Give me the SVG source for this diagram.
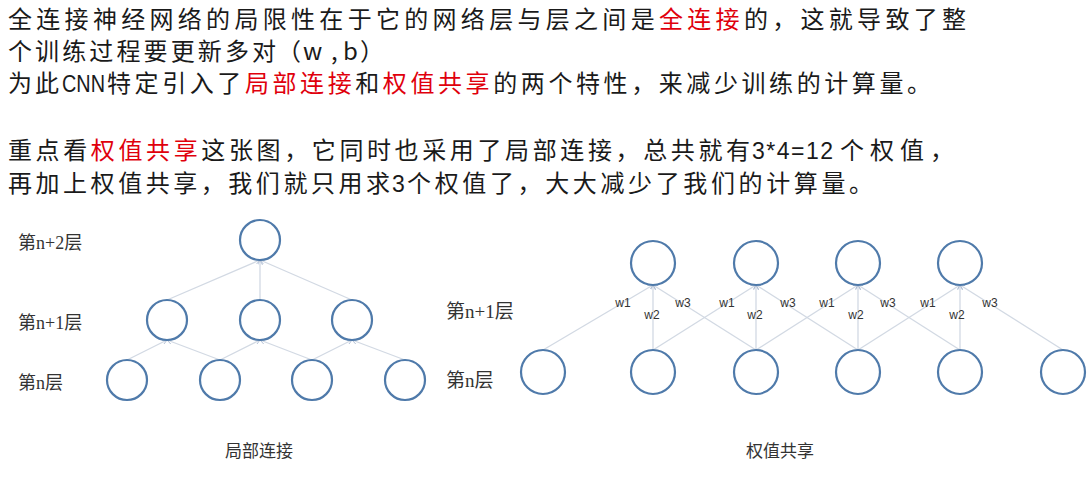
<svg xmlns="http://www.w3.org/2000/svg" width="1090" height="500" viewBox="0 0 1090 500">
<style>
.t{font-family:"Noto Sans CJK SC","Liberation Sans",sans-serif;font-size:24px;fill:#1a1a1a}
.l{font-family:"Liberation Sans","Noto Sans CJK SC",sans-serif;font-size:23px;fill:#1a1a1a}
.r{fill:#e0000c}
.lbl{font-family:"Liberation Serif","Noto Sans CJK SC",serif;font-size:18px;fill:#333}
.lbr{font-family:"Liberation Serif","Noto Sans CJK SC",serif;font-size:19px;fill:#333}
.cap{font-family:"Liberation Serif","Noto Sans CJK SC",serif;font-size:17px;fill:#333}
.w{font-family:"Liberation Sans","Noto Sans",sans-serif;font-size:12px;fill:#333}
.n{fill:#fff;stroke:#4f7aaa;stroke-width:2.2}
.e{stroke:#d2d9e3;stroke-width:1.3;fill:none;marker-end:url(#a)}
</style>
<defs>
<marker id="a" viewBox="0 0 6 6" refX="6" refY="3" markerWidth="5" markerHeight="5" orient="auto" markerUnits="userSpaceOnUse">
<path d="M0,0 L6,3 L0,6" fill="none" stroke="#aebcd2" stroke-width="1"/>
</marker>
</defs>
<rect width="1090" height="500" fill="#fff"/>
<g id="text">
<text class="t" x="8" y="28" textLength="958" lengthAdjust="spacing">全连接神经网络的局限性在于它的网络层与层之间是<tspan class="r">全连接</tspan>的，这就导致了整</text>
<text class="t" x="8" y="60" textLength="268" lengthAdjust="spacing">个训练过程要更新多对</text>
<text class="t" y="60"><tspan x="277">（</tspan><tspan x="303">w</tspan><tspan x="331">,</tspan><tspan x="343">b</tspan><tspan x="360">）</tspan></text>
<text class="t" x="8" y="92" letter-spacing="3">为此</text>
<text class="l" x="62" y="92" textLength="43" lengthAdjust="spacingAndGlyphs">CNN</text>
<text class="t" x="107" y="92" textLength="824" lengthAdjust="spacing">特定引入了<tspan class="r">局部连接</tspan>和<tspan class="r">权值共享</tspan>的两个特性，来减少训练的计算量。</text>
<text class="t" x="8" y="159" textLength="742" lengthAdjust="spacing">重点看<tspan class="r">权值共享</tspan>这张图，它同时也采用了局部连接，总共就有</text>
<text class="l" x="752" y="159" letter-spacing="1.5">3*4=12</text>
<text class="t" x="840" y="159" textLength="114" lengthAdjust="spacing">个权值，</text>
<text class="t" x="8" y="192" textLength="382" lengthAdjust="spacing">再加上权值共享，我们就只用求</text>
<text class="l" x="392" y="192">3</text>
<text class="t" x="407" y="192" textLength="466" lengthAdjust="spacing">个权值了，大大减少了我们的计算量。</text>
</g>
<g id="connectors">
<line class="e" x1="127" y1="360" x2="167" y2="340"/>
<line class="e" x1="220" y1="360" x2="167" y2="340"/>
<line class="e" x1="220" y1="360" x2="260" y2="340"/>
<line class="e" x1="312" y1="360" x2="260" y2="340"/>
<line class="e" x1="312" y1="360" x2="352" y2="340"/>
<line class="e" x1="405" y1="360" x2="352" y2="340"/>
<line class="e" x1="167" y1="300" x2="260" y2="260"/>
<line class="e" x1="260" y1="300" x2="260" y2="260"/>
<line class="e" x1="352" y1="300" x2="260" y2="260"/>
<line class="e" x1="543" y1="350" x2="653" y2="285"/>
<line class="e" x1="653" y1="350" x2="653" y2="285"/>
<line class="e" x1="756" y1="350" x2="653" y2="285"/>
<line class="e" x1="653" y1="350" x2="756" y2="285"/>
<line class="e" x1="756" y1="350" x2="756" y2="285"/>
<line class="e" x1="858" y1="350" x2="756" y2="285"/>
<line class="e" x1="756" y1="350" x2="858" y2="285"/>
<line class="e" x1="858" y1="350" x2="858" y2="285"/>
<line class="e" x1="960" y1="350" x2="858" y2="285"/>
<line class="e" x1="858" y1="350" x2="960" y2="285"/>
<line class="e" x1="960" y1="350" x2="960" y2="285"/>
<line class="e" x1="1063" y1="350" x2="960" y2="285"/>
</g>
<g id="left-diagram">
<g id="L-top"><circle class="n" cx="260" cy="240" r="20"/></g>
<g id="L-m1"><circle class="n" cx="167" cy="320" r="20"/></g>
<g id="L-m2"><circle class="n" cx="260" cy="320" r="20"/></g>
<g id="L-m3"><circle class="n" cx="352" cy="320" r="20"/></g>
<g id="L-b1"><circle class="n" cx="127" cy="380" r="20"/></g>
<g id="L-b2"><circle class="n" cx="220" cy="380" r="20"/></g>
<g id="L-b3"><circle class="n" cx="312" cy="380" r="20"/></g>
<g id="L-b4"><circle class="n" cx="405" cy="380" r="20"/></g>
<text class="lbl" x="18" y="249">第n+2层</text>
<text class="lbl" x="18" y="329">第n+1层</text>
<text class="lbl" x="18" y="389">第n层</text>
<text class="cap" x="259" y="457" text-anchor="middle">局部连接</text>
</g>
<g id="right-diagram">
<g id="R-t1"><circle class="n" cx="653" cy="263" r="22"/></g>
<g id="R-t2"><circle class="n" cx="756" cy="263" r="22"/></g>
<g id="R-t3"><circle class="n" cx="858" cy="263" r="22"/></g>
<g id="R-t4"><circle class="n" cx="960" cy="263" r="22"/></g>
<g id="R-b1"><circle class="n" cx="543" cy="372" r="22"/></g>
<g id="R-b2"><circle class="n" cx="653" cy="372" r="22"/></g>
<g id="R-b3"><circle class="n" cx="756" cy="372" r="22"/></g>
<g id="R-b4"><circle class="n" cx="858" cy="372" r="22"/></g>
<g id="R-b5"><circle class="n" cx="960" cy="372" r="22"/></g>
<g id="R-b6"><circle class="n" cx="1063" cy="372" r="22"/></g>
<g text-anchor="middle">
<text class="w" x="623" y="307">w1</text><text class="w" x="652" y="319">w2</text><text class="w" x="683" y="307">w3</text>
<text class="w" x="727" y="307">w1</text><text class="w" x="755" y="319">w2</text><text class="w" x="788" y="307">w3</text>
<text class="w" x="827" y="307">w1</text><text class="w" x="856" y="319">w2</text><text class="w" x="888" y="307">w3</text>
<text class="w" x="928" y="307">w1</text><text class="w" x="957" y="319">w2</text><text class="w" x="990" y="307">w3</text>
</g>
<text class="lbr" x="446" y="318">第n+1层</text>
<text class="lbr" x="446" y="387">第n层</text>
<text class="cap" x="780" y="457" text-anchor="middle">权值共享</text>
</g>
</svg>
